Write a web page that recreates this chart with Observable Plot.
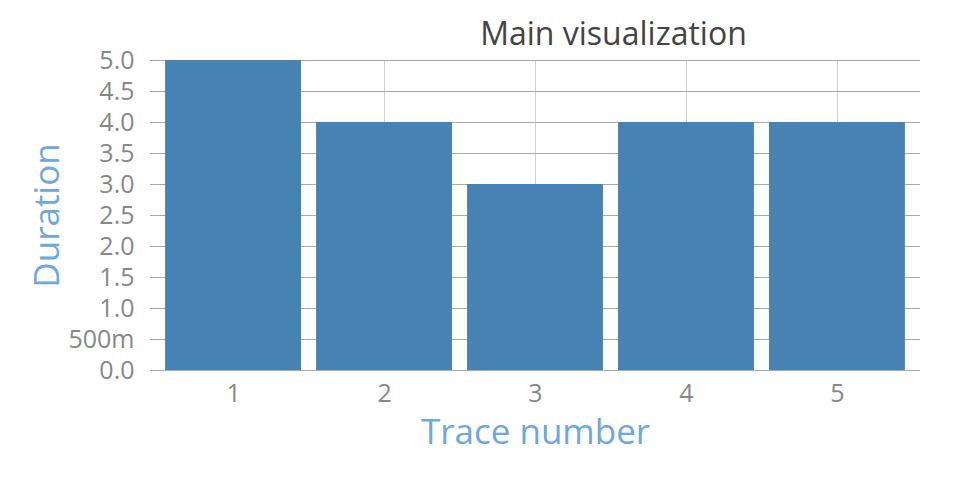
<!DOCTYPE html>
<html>
<head>
<meta charset="utf-8">
<script src="https://cdn.jsdelivr.net/npm/d3@7"></script>
<script src="https://cdn.jsdelivr.net/npm/@observablehq/plot@0.6"></script>
<style>
  html, body { margin: 0; padding: 0; background: #fff; }
  #chart { width: 960px; height: 500px; }
</style>
</head>
<body>
<div id="chart"></div>
<script>
const traces = [1, 2, 3, 4, 5];
const durations = [5, 4, 3, 4, 4];
const yTicks = [0, 0.5, 1, 1.5, 2, 2.5, 3, 3.5, 4, 4.5, 5];
const yTickLabels = ["0.0", "500m", "1.0", "1.5", "2.0", "2.5", "3.0", "3.5", "4.0", "4.5", "5.0"];
const title = "Main visualization";
const xLabel = "Trace number";
const yLabel = "Duration";

const data = traces.map((t, i) => ({trace: t, duration: durations[i]}));
const font = "'Open Sans', sans-serif";

const chart = Plot.plot({
  width: 960,
  height: 500,
  marginLeft: 150,
  marginRight: 40,
  marginTop: 60,
  marginBottom: 130,
  style: {fontFamily: font, background: "#fff"},
  x: {domain: traces, padding: 0.1, round: false},
  y: {domain: [0, 5]},
  marks: [
    Plot.gridX({stroke: "#d0d0d0", strokeOpacity: 1}),
    Plot.gridY({ticks: yTicks, stroke: "#aaa", strokeOpacity: 1}),
    Plot.barY(data, {x: "trace", y: "duration", fill: "steelblue"}),
    Plot.axisY({ticks: yTicks, tickFormat: (d) => yTickLabels[yTicks.indexOf(d)], tickSize: 0, tickPadding: 16, label: null, fontSize: 25, fill: "#888"}),
    Plot.axisX({tickSize: 0, tickPadding: 14, label: null, fontSize: 25, fill: "#888"}),
    Plot.text([yLabel], {frameAnchor: "left", rotate: -90, dx: -103, textAnchor: "middle", lineAnchor: "middle", fontSize: 35, fill: "#6fa8dc"}),
    Plot.text([xLabel], {frameAnchor: "bottom", dy: 62, textAnchor: "middle", lineAnchor: "middle", fontSize: 35, fill: "#6fa8dc"}),
    Plot.text([title], {frameAnchor: "top", dx: 78, dy: -38, fontSize: 32, fill: "#444"})
  ]
});
document.getElementById("chart").append(chart);
</script>
</body>
</html>
